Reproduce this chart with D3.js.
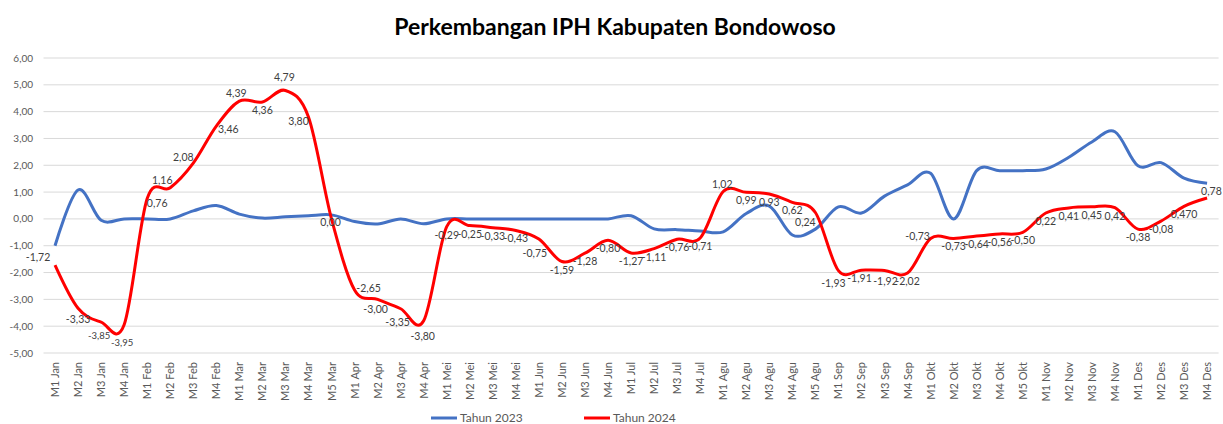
<!DOCTYPE html>
<html>
<head>
  <meta charset="utf-8">
  <title>Perkembangan IPH Kabupaten Bondowoso</title>
  <script src="https://cdn.jsdelivr.net/npm/d3@7"></script>
  <style>
    body { margin: 0; background: #fff; }
    text { font-family: Lato, "Open Sans", sans-serif; }
  </style>
</head>
<body>
<script>
// categories (week + month)
var weeks = ["M1 Jan","M2 Jan","M3 Jan","M4 Jan","M1 Feb","M2 Feb","M3 Feb","M4 Feb",
  "M1 Mar","M2 Mar","M3 Mar","M4 Mar","M5 Mar","M1 Apr","M2 Apr","M3 Apr","M4 Apr",
  "M1 Mei","M2 Mei","M3 Mei","M4 Mei","M1 Jun","M2 Jun","M3 Jun","M4 Jun",
  "M1 Jul","M2 Jul","M3 Jul","M4 Jul","M1 Agu","M2 Agu","M3 Agu","M4 Agu","M5 Agu",
  "M1 Sep","M2 Sep","M3 Sep","M4 Sep","M1 Okt","M2 Okt","M3 Okt","M4 Okt","M5 Okt",
  "M1 Nov","M2 Nov","M3 Nov","M4 Nov","M1 Des","M2 Des","M3 Des","M4 Des"];

// Tahun 2023 (no labels in the chart)
var iph2023 = [-1.00,1.08,-0.05,0.00,0.00,0.00,0.30,0.50,0.18,0.03,0.08,0.12,0.15,
  -0.10,-0.19,0.00,-0.18,0.00,0.00,0.00,0.00,0.00,0.00,0.00,0.00,
  0.12,-0.37,-0.40,-0.45,-0.48,0.20,0.48,-0.60,-0.38,
  0.45,0.22,0.85,1.27,1.70,0.00,1.80,1.80,1.80,1.86,2.30,2.87,3.25,1.98,2.10,1.52,1.33];

// Tahun 2024 (labelled)
var iph2024 = [-1.72,-3.33,-3.85,-3.95,0.76,1.16,2.08,3.46,4.39,4.36,4.79,3.80,0.00,
  -2.65,-3.00,-3.35,-3.80,-0.29,-0.25,-0.33,-0.43,-0.75,-1.59,-1.28,-0.80,
  -1.27,-1.11,-0.76,-0.71,1.02,0.99,0.93,0.62,0.24,
  -1.93,-1.91,-1.92,-2.02,-0.73,-0.73,-0.64,-0.56,-0.50,0.22,0.41,0.45,0.42,-0.38,-0.08,0.47,0.78];
var label2024 = iph2024.map(function(v){ return v.toFixed(2).replace(".", ","); });
label2024[49] = "0,470";

var yTicks = [6,5,4,3,2,1,0,-1,-2,-3,-4,-5];

// label nudges [dx, dy] relative to each point (default: just below)
var labelShift = {
  0:[-17,-8], 1:[0,11], 2:[-2,13], 3:[-2,17], 4:[10,4], 5:[-8,-8], 6:[-10,-6],
  7:[12,3], 8:[-3,-8], 9:[0,8], 10:[-1,-13], 11:[-10,4], 12:[-1,3], 13:[14,-2],
  14:[-2,10], 15:[-3,13], 16:[-1,15], 21:[-4,14], 29:[-1,-8], 33:[-10,10],
  34:[-5,12], 35:[-2,8], 36:[1,11], 38:[-13,-2], 50:[-6,-7]
};
var smallLabels = [2,3];

var W = 1223, H = 424;
var svg = d3.select("body").append("svg")
    .attr("width", W).attr("height", H);

var x = d3.scaleBand().domain(weeks).range([43.5, 1218.6]);
var y = d3.scaleLinear().domain([-5, 6]).range([353, 58]);
var cx = function(i){ return x(weeks[i]) + x.bandwidth()/2; };

// title
svg.append("text")
   .attr("x", 615).attr("y", 35)
   .attr("text-anchor", "middle")
   .style("font-size", "23px").style("font-weight", "bold").style("fill", "#000")
   .text("Perkembangan IPH Kabupaten Bondowoso");

// gridlines
svg.append("g").selectAll("line")
   .data(yTicks).enter().append("line")
   .attr("x1", 43.5).attr("x2", 1218.6)
   .attr("y1", function(d){ return y(d); })
   .attr("y2", function(d){ return y(d); })
   .style("stroke", "#d9d9d9").style("stroke-width", 1);

// y axis labels
svg.append("g").selectAll("text")
   .data(yTicks).enter().append("text")
   .attr("x", 33).attr("y", function(d){ return y(d) + 3.5; })
   .attr("text-anchor", "end")
   .style("font-size", "10px").style("fill", "#595959")
   .text(function(d){ return d.toFixed(2).replace(".", ","); });

// x axis labels (rotated)
svg.append("g").selectAll("text")
   .data(weeks).enter().append("text")
   .attr("transform", function(d, i){ return "translate(" + (cx(i) + 4) + ",362) rotate(-90)"; })
   .attr("text-anchor", "end")
   .style("font-size", "11px").style("fill", "#595959")
   .text(function(d){ return d; });

var line = d3.line()
    .x(function(d, i){ return cx(i); })
    .y(function(d){ return y(d); })
    .curve(d3.curveCardinal.tension(0));

svg.append("path").datum(iph2023)
   .attr("d", line)
   .style("fill", "none").style("stroke", "#4472c4").style("stroke-width", 3)
   .style("stroke-linejoin", "round");

svg.append("path").datum(iph2024)
   .attr("d", line)
   .style("fill", "none").style("stroke", "#ff0000").style("stroke-width", 3)
   .style("stroke-linejoin", "round");

// data labels for 2024
svg.append("g").selectAll("text")
   .data(iph2024).enter().append("text")
   .attr("x", function(d, i){ var s = labelShift[i] || [0, 8]; return cx(i) + s[0]; })
   .attr("y", function(d, i){ var s = labelShift[i] || [0, 8]; return y(d) + s[1] + 4; })
   .attr("text-anchor", function(d, i){ return i === iph2024.length - 1 ? "start" : "middle"; })
   .style("font-size", function(d, i){ return smallLabels.indexOf(i) >= 0 ? "9.5px" : "10.5px"; })
   .style("fill", "#404040")
   .text(function(d, i){ return label2024[i]; });

// legend
var legend = [{name: "Tahun 2023", color: "#4472c4", x: 431},
              {name: "Tahun 2024", color: "#ff0000", x: 584}];
var lg = svg.append("g").selectAll("g").data(legend).enter().append("g");
lg.append("line")
  .attr("x1", function(d){ return d.x; }).attr("x2", function(d){ return d.x + 26; })
  .attr("y1", 418).attr("y2", 418)
  .style("stroke", function(d){ return d.color; }).style("stroke-width", 3);
lg.append("text")
  .attr("x", function(d){ return d.x + 29; }).attr("y", 422)
  .style("font-size", "12px").style("fill", "#595959")
  .text(function(d){ return d.name; });
</script>
</body>
</html>
